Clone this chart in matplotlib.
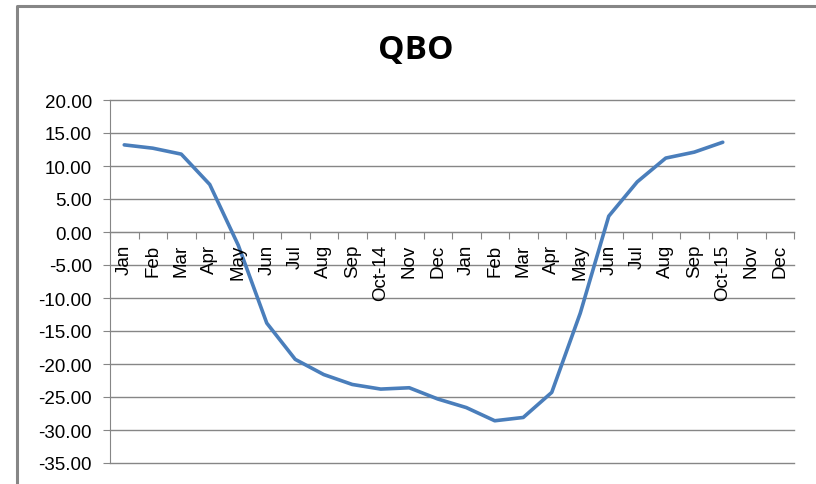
import numpy as np
import matplotlib
matplotlib.use("Agg")
from matplotlib import pyplot as plt
from matplotlib.lines import Line2D

months = ["Jan", "Feb", "Mar", "Apr", "May", "Jun", "Jul", "Aug", "Sep", "Oct-14", "Nov", "Dec",
          "Jan", "Feb", "Mar", "Apr", "May", "Jun", "Jul", "Aug", "Sep", "Oct-15", "Nov", "Dec"]
qbo = [13.2, 12.7, 11.8, 7.2, -2.0, -13.8, -19.3, -21.6, -23.1, -23.8, -23.6, -25.3,
       -26.6, -28.6, -28.1, -24.3, -12.3, 2.4, 7.6, 11.2, 12.1, 13.6]

plt.rcParams["font.family"] = ["Liberation Sans", "DejaVu Sans"]

W, H = 816, 485
fig = plt.figure(figsize=(W / 100, H / 100), dpi=100)

# chart-area frame (partially cropped in the reference)
fig.add_artist(Line2D([17 / W, 17 / W, 1.0], [0.0, 1 - 7 / H, 1 - 7 / H],
                      transform=fig.transFigure, color="#868686", lw=2.2))

ax = fig.add_axes([110 / W, 1 - 464 / H, (794 - 110) / W, (464 - 101) / H])

x = np.arange(len(qbo))
ax.plot(x, qbo, color="#4A7EBB", lw=2.6, solid_capstyle="round", zorder=3)

ax.set_xlim(-0.5, len(months) - 0.5)
ax.set_ylim(-35, 20)
yt = np.arange(-35, 21, 5)
ax.set_yticks(yt)
ax.set_yticklabels([f"{v:.2f}" for v in yt], fontsize=13.5)
for v in yt:
    ax.axhline(v, color="#868686", lw=1, clip_on=False, zorder=1)

for s in ["top", "right"]:
    ax.spines[s].set_visible(False)
ax.spines["left"].set_color("#868686")
ax.spines["bottom"].set_color("#868686")
ax.spines["bottom"].set_position(("data", 0))
ax.tick_params(axis="y", length=5, color="#868686", pad=8)

ax.set_xticks(np.arange(len(months) + 1) - 0.5)
ax.set_xticklabels([])
ax.tick_params(axis="x", length=5, color="#868686")
for i, m in enumerate(months):
    ax.text(i, -1.8, m, rotation=90, ha="center", va="top", fontsize=13.5)

fig.text(0.51, 1 - 50 / H, "QBO", ha="center", va="center", fontsize=24, fontweight="bold",
         fontfamily="Open Sans")

fig.savefig("out.png", dpi=100)
